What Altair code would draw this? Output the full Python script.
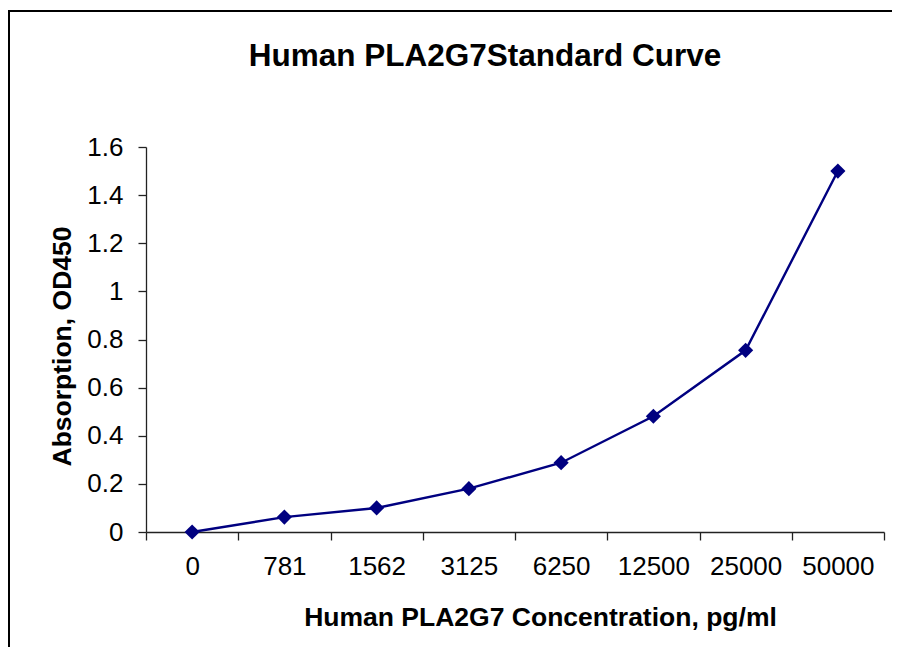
import altair as alt
import pandas as pd

concentrations = ["0", "781", "1562", "3125", "6250", "12500", "25000", "50000"]
od450 = [0.0, 0.062, 0.10, 0.18, 0.288, 0.481, 0.755, 1.50]
y_ticks = [0, 0.2, 0.4, 0.6, 0.8, 1.0, 1.2, 1.4, 1.6]

df = pd.DataFrame({"conc": concentrations, "od": od450})

FONT = "Liberation Sans"
NAVY = "#000080"
W, H = 738, 385

x_enc = alt.X(
    "conc:N",
    sort=concentrations,
    bandPosition=0.5,
    scale=alt.Scale(type="band", paddingInner=0, paddingOuter=0),
    axis=alt.Axis(
        title="Human PLA2G7 Concentration, pg/ml",
        titleFont=FONT, titleFontSize=26.5, titleFontWeight="bold", titleColor="black",
        titleX=394, titleY=93, titleBaseline="alphabetic", titleAnchor="start", titleAlign="center",
        labelFont=FONT, labelFontSize=26, labelColor="black", labelAngle=0,
        labelPadding=13, tickSize=8, tickBand="extent",
        domainColor="#222222", tickColor="#222222", domainWidth=1.3, tickWidth=1.3,
        grid=False,
    ),
)
y_enc = alt.Y(
    "od:Q",
    scale=alt.Scale(domain=[0, 1.6], nice=False, zero=True),
    axis=alt.Axis(
        title="Absorption, OD450",
        titleFont=FONT, titleFontSize=26.5, titleFontWeight="bold", titleColor="black",
        titleX=-76, titleY=199, titleAngle=270, titleBaseline="alphabetic", titleAlign="center",
        labelFont=FONT, labelFontSize=26, labelColor="black",
        labelPadding=15, tickSize=8, values=y_ticks, format="~g",
        domainColor="#222222", tickColor="#222222", domainWidth=1.3, tickWidth=1.3,
        grid=False,
    ),
)

line = alt.Chart(df).mark_line(color=NAVY, strokeWidth=2.4).encode(x=x_enc, y=y_enc)
points = alt.Chart(df).mark_point(shape="diamond", size=230, filled=True, color=NAVY, opacity=1).encode(
    x=alt.X("conc:N", sort=concentrations, bandPosition=0.5), y="od:Q"
)

frame_data = alt.Data(values=[{"k": 1}])
top_rule = alt.Chart(frame_data).mark_rule(color="black", strokeWidth=2).encode(
    x=alt.value(-137), x2=alt.value(W + 20), y=alt.value(-136)
)
left_rule = alt.Chart(frame_data).mark_rule(color="black", strokeWidth=2).encode(
    x=alt.value(-137), y=alt.value(-137), y2=alt.value(H + 140)
)

chart = alt.layer(line, points, top_rule, left_rule).properties(
    width=W,
    height=H,
    title=alt.TitleParams(
        text="Human PLA2G7Standard Curve",
        font=FONT, fontSize=31.5, fontWeight="bold", color="black",
        anchor="middle", dx=-30, offset=0, dy=63,
    ),
    autosize=alt.AutoSizeParams(type="none"),
    padding={"left": 138, "top": 139, "right": 8, "bottom": 115},
    background="white",
).configure_view(stroke=None)

chart.save("out.html", embed_options={"renderer": "svg", "actions": False})
